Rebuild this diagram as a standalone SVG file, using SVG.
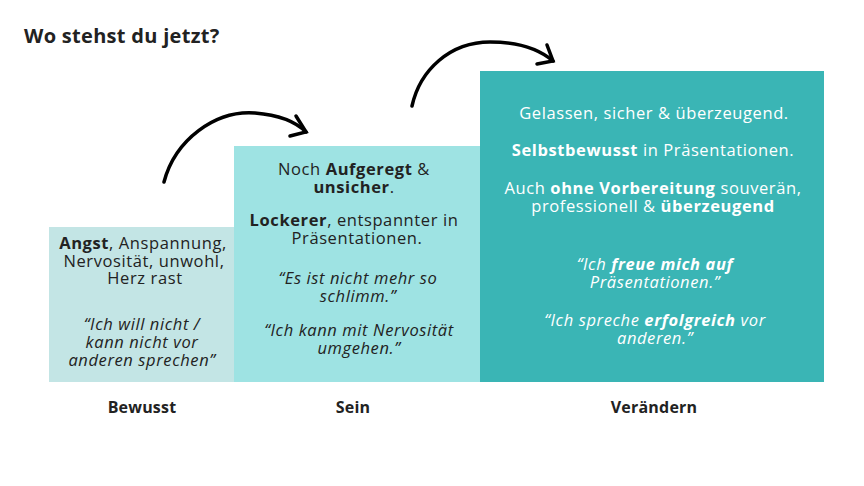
<svg xmlns="http://www.w3.org/2000/svg" width="864" height="486" viewBox="0 0 864 486">
<style>
text{font-family:"Open Sans","Liberation Sans",sans-serif;font-size:16.5px;letter-spacing:0.6px;text-anchor:middle;fill:#222}
.w{fill:#fff}
.i{font-style:italic}
.b{font-weight:bold}
.lab{font-weight:bold;font-size:16px;letter-spacing:0.2px}
.arr{fill:none;stroke:#000;stroke-width:3.5;stroke-linecap:round}
</style>
<rect width="864" height="486" fill="#fff"/>
<text x="24" y="43" style="text-anchor:start;font-weight:bold;font-size:20px;letter-spacing:0.3px">Wo stehst du jetzt?</text>
<g id="connectors">
<path class="arr" d="M164 182 C175 140 215 110 255 113 C280 115 296 122 306 132"/>
<path class="arr" d="M296 116 L306 132 L290 136"/>
<path class="arr" d="M412 106 C420 70 450 42 490 42 C520 42 540 50 553 61"/>
<path class="arr" d="M547 45 L553 61 L537 64"/>
</g>
<g id="bewusst">
<rect x="49" y="227" width="185" height="155" fill="#c3e5e5"/>
<text x="143" y="249"><tspan class="b">Angst</tspan>, Anspannung,</text>
<text x="144" y="267">Nervosität, unwohl,</text>
<text x="145" y="284">Herz rast</text>
<text x="142" y="330" class="i">“Ich will nicht /</text>
<text x="142" y="348" class="i">kann nicht vor</text>
<text x="142" y="366" class="i">anderen sprechen”</text>
<text x="142" y="413" class="lab">Bewusst</text>
</g>
<g id="sein">
<rect x="234" y="146" width="246" height="236" fill="#9ee3e3"/>
<text x="354" y="175">Noch <tspan class="b">Aufgeregt</tspan> &amp;</text>
<text x="354" y="193"><tspan class="b">unsicher</tspan>.</text>
<text x="354" y="226"><tspan class="b">Lockerer</tspan>, entspannter in</text>
<text x="357" y="244">Präsentationen.</text>
<text x="358" y="284" class="i">“Es ist nicht mehr so</text>
<text x="358" y="302" class="i">schlimm.”</text>
<text x="359" y="336" class="i">“Ich kann mit Nervosität</text>
<text x="359" y="354" class="i">umgehen.”</text>
<text x="353" y="413" class="lab">Sein</text>
</g>
<g id="veraendern">
<rect x="480" y="71" width="344" height="311" fill="#3ab5b5"/>
<text class="w" x="654" y="119">Gelassen, sicher &amp; überzeugend.</text>
<text class="w" x="653" y="156"><tspan class="b">Selbstbewusst</tspan> in Präsentationen.</text>
<text class="w" x="653" y="194">Auch <tspan class="b">ohne Vorbereitung</tspan> souverän,</text>
<text class="w" x="653" y="212">professionell &amp; <tspan class="b">überzeugend</tspan></text>
<text class="w i" x="655" y="270">“Ich <tspan class="b">freue mich auf</tspan></text>
<text class="w i" x="655" y="288">Präsentationen.”</text>
<text class="w i" x="655" y="326">“Ich spreche <tspan class="b">erfolgreich</tspan> vor</text>
<text class="w i" x="655" y="344">anderen.”</text>
<text x="654" y="413" class="lab">Verändern</text>
</g>
</svg>
